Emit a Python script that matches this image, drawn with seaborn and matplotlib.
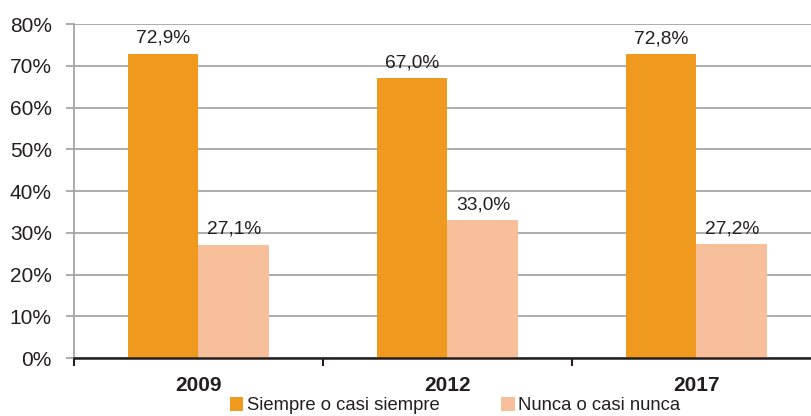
import matplotlib
matplotlib.use("Agg")
import matplotlib.pyplot as plt
import seaborn as sns
import pandas as pd
from matplotlib.ticker import FuncFormatter

years = ["2009", "2012", "2017"]
series_names = ["Siempre o casi siempre", "Nunca o casi nunca"]
siempre = [72.9, 67.0, 72.8]
nunca = [27.1, 33.0, 27.2]
colors = ["#F0991F", "#F8C09A"]

rows = []
for y, a, b in zip(years, siempre, nunca):
    rows.append({"year": y, "serie": series_names[0], "val": a})
    rows.append({"year": y, "serie": series_names[1], "val": b})
df = pd.DataFrame(rows)

sns.set_style("white")
plt.rcParams["font.family"] = ["Liberation Sans", "DejaVu Sans"]

fig = plt.figure(figsize=(8.12, 4.16), dpi=100)
ax = fig.add_axes([74/812, 1-358/416, (821-74)/812, (358-24)/416])

sns.barplot(data=df, x="year", y="val", hue="serie", palette=colors,
            width=0.57, saturation=1, ax=ax, legend=True, edgecolor="none")

ax.set_ylim(0, 80)
ax.set_yticks(range(0, 81, 10))
ax.yaxis.set_major_formatter(FuncFormatter(lambda v, p: f"{int(v)}%"))
ax.grid(axis="y", color="#A6A6A6", linewidth=1.3)
ax.set_axisbelow(True)
ax.set_xlim(-0.5, 2.5)
for s in ["top", "right"]:
    ax.spines[s].set_visible(False)
ax.spines["left"].set_color("#A6A6A6")
ax.spines["left"].set_linewidth(1.3)
ax.spines["bottom"].set_color("#231F20")
ax.spines["bottom"].set_linewidth(1.8)
ax.set_xlabel("")
ax.set_ylabel("")
ax.tick_params(axis="y", length=6, color="#A6A6A6", width=1.3, labelsize=15,
               labelcolor="#231F20", left=True, pad=10)
ax.set_xticks([0, 1, 2])
ax.set_xticklabels(years, fontweight="bold", fontsize=15, color="#231F20")
ax.tick_params(axis="x", length=0, pad=13)
ax.set_xticks([-0.5, 0.5, 1.5], minor=True)
ax.tick_params(axis="x", which="minor", length=6, width=1.5, color="#231F20", bottom=True)

for cont in ax.containers:
    for bar in cont:
        h = bar.get_height()
        ax.annotate(f"{h:.1f}%".replace(".", ","),
                    (bar.get_x() + bar.get_width()/2, h),
                    xytext=(0, 5), textcoords="offset points",
                    ha="center", va="bottom", fontsize=13.8, color="#231F20")

handles, labels = ax.get_legend_handles_labels()
ax.get_legend().remove()
fig.legend(handles, labels, loc="lower center", bbox_to_anchor=(455/812, 0.004),
           ncol=2, frameon=False, fontsize=13.3, handlelength=0.75, handleheight=0.75,
           handletextpad=0.2, columnspacing=3.3, labelcolor="#231F20",
           borderpad=0.0, borderaxespad=0.0)

fig.savefig("out.png", dpi=100)
